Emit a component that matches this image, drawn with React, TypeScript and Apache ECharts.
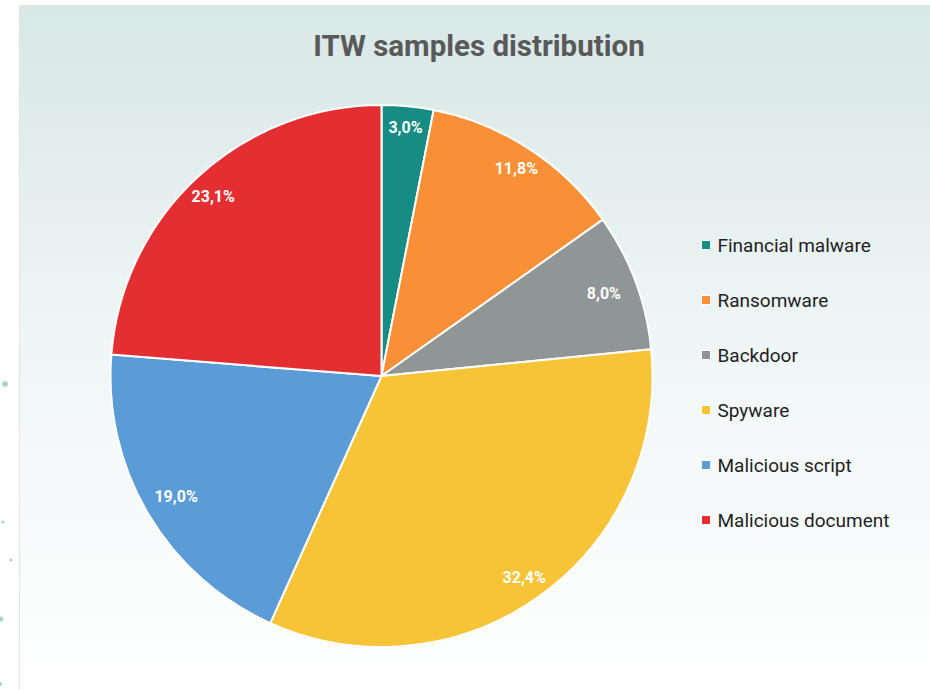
import React, { useEffect, useRef } from "react";
import * as echarts from "echarts";

const categories = [
  "Financial malware",
  "Ransomware",
  "Backdoor",
  "Spyware",
  "Malicious script",
  "Malicious document",
];
const values = [3.0, 11.8, 8.0, 32.4, 19.0, 23.1];
const colors = ["#178c84", "#f98f36", "#8f9695", "#f8c437", "#5b9bd6", "#e32f31"];
const titleText = "ITW samples distribution";
// small label nudges (styling only)
const labelNudges = [[0, -2], [0, 1], [-10, 4], [-2, 0], [8, -6], [0, 3]];

export default function App() {
  const ref = useRef<HTMLDivElement>(null);
  useEffect(() => {
    document.body.style.margin = "0";
    const chart = echarts.init(ref.current!, undefined, { renderer: "svg" });
    const data = categories.map((name, i) => ({
      name,
      value: values[i],
      itemStyle: { color: colors[i] },
    }));
    const fmt = (p: any) => p.value.toFixed(1).replace(".", ",") + "%";
    chart.setOption({
      animation: false,
      backgroundColor: "#ffffff",
      textStyle: { fontFamily: "Roboto" },
      graphic: [
        {
          type: "rect",
          z: -10,
          shape: { x: 19.5, y: 5.5, width: 915, height: 690 },
          style: {
            fill: new echarts.graphic.LinearGradient(0, 0, 0, 1, [
              { offset: 0, color: "#d8e7e7" },
              { offset: 0.5, color: "#f0f6f6" },
              { offset: 1, color: "#ffffff" },
            ]),
            stroke: "#e2e4e4",
            lineWidth: 1,
          },
          silent: true,
        },
        { type: "circle", shape: { cx: 5, cy: 384, r: 3 }, style: { fill: "#a6d3cf" }, silent: true },
        { type: "circle", shape: { cx: 3, cy: 522, r: 1.5 }, style: { fill: "#a6d3cf" }, silent: true },
        { type: "circle", shape: { cx: 11, cy: 560, r: 1.5 }, style: { fill: "#a6d3cf" }, silent: true },
        { type: "circle", shape: { cx: 1, cy: 619, r: 2.5 }, style: { fill: "#a6d3cf" }, silent: true },
        { type: "circle", shape: { cx: 0, cy: 684, r: 2 }, style: { fill: "#a6d3cf" }, silent: true },
      ],
      title: {
        text: titleText,
        left: 474,
        textAlign: "center",
        top: 26,
        textStyle: {
          fontFamily: "Roboto",
          fontWeight: "bold",
          fontSize: 29.5,
          color: "#595959",
        },
      },
      legend: {
        orient: "vertical",
        left: 696,
        top: 230,
        itemWidth: 9,
        itemHeight: 9,
        itemGap: 35,
        icon: "rect",
        data: categories,
        itemStyle: { borderWidth: 1, borderColor: "#ffffff" },
        textStyle: {
          fontFamily: "Roboto",
          fontSize: 19,
          lineHeight: 20,
          color: "#1f1f1f",
          padding: [0, 0, 0, 2],
        },
      },
      series: [
        {
          type: "pie",
          center: [381.5, 376],
          radius: 271,
          startAngle: 90,
          clockwise: true,
          data,
          label: { show: false },
          labelLine: { show: false },
          itemStyle: { borderColor: "#ffffff", borderWidth: 2 },
          emphasis: { disabled: true },
          silent: true,
        },
        {
          type: "pie",
          center: [381.5, 376],
          radius: [219, 271],
          startAngle: 90,
          clockwise: true,
          data: categories.map((name, i) => ({
            name,
            value: values[i],
            label: { offset: labelNudges[i] },
          })),
          itemStyle: { color: "rgba(0,0,0,0)", borderWidth: 0 },
          label: {
            show: true,
            position: "inside",
            formatter: fmt,
            fontFamily: "Roboto",
            fontWeight: "bold",
            fontSize: 16,
            color: "#ffffff",
          },
          labelLine: { show: false },
          emphasis: { disabled: true },
          silent: true,
        },
      ],
    });
    return () => chart.dispose();
  }, []);
  return <div ref={ref} style={{ width: 930, height: 690 }} />;
}
